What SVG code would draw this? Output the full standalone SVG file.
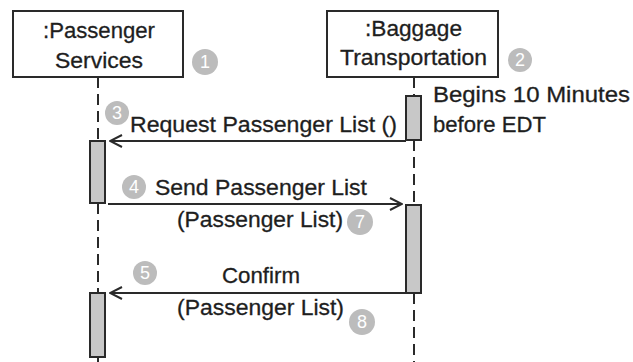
<svg xmlns="http://www.w3.org/2000/svg" width="633" height="362" viewBox="0 0 633 362">
<defs>
<style>
.box{fill:#fff;stroke:#2a2a2a;stroke-width:2}
.act{fill:#c8c8c8;stroke:#2a2a2a;stroke-width:2}
.life{stroke:#2a2a2a;stroke-width:2;stroke-dasharray:11,6;fill:none}
.msg{stroke:#2a2a2a;stroke-width:2;fill:none;marker-end:url(#open)}
.t{font-family:"Liberation Sans",Arial,sans-serif;font-size:22px;fill:#1e1e1e;stroke:#1e1e1e;stroke-width:0.3}
.num circle{fill:#bcbcbc}
.num text{font-family:"Liberation Sans",Arial,sans-serif;font-size:18px;fill:#fff;text-anchor:middle}
</style>
<marker id="open" viewBox="0 0 14 14" refX="13" refY="7" markerWidth="14" markerHeight="14" markerUnits="userSpaceOnUse" orient="auto">
<path d="M1,1 L13,7 L1,13" fill="none" stroke="#2a2a2a" stroke-width="2"/>
</marker>
</defs>
<rect width="633" height="362" fill="#fff"/>
<g id="connectors">
<path class="life" d="M98,77 V141 M98,203 V293 M98,357 V362"/>
<path class="life" d="M414,77 V96 M414,140 V205 M414,293 V362"/>
<line class="msg" x1="406" y1="141" x2="110" y2="141"/>
<line class="msg" x1="108" y1="204" x2="402" y2="204"/>
<line class="msg" x1="421" y1="293" x2="110" y2="293"/>
<text class="t" x="130" y="132" textLength="267" lengthAdjust="spacingAndGlyphs">Request Passenger List ()</text>
<text class="t" x="155" y="195" textLength="212" lengthAdjust="spacingAndGlyphs">Send Passenger List</text>
<text class="t" x="177" y="227" textLength="166" lengthAdjust="spacingAndGlyphs">(Passenger List)</text>
<text class="t" x="222" y="283" textLength="78" lengthAdjust="spacingAndGlyphs">Confirm</text>
<text class="t" x="177" y="315" textLength="167" lengthAdjust="spacingAndGlyphs">(Passenger List)</text>
</g>
<g id="passenger-services">
<rect class="box" x="13" y="11" width="170" height="66"/>
<text class="t" x="43" y="38" textLength="112" lengthAdjust="spacingAndGlyphs">:Passenger</text>
<text class="t" x="55" y="68" textLength="88" lengthAdjust="spacingAndGlyphs">Services</text>
<rect class="act" x="90" y="141" width="15" height="62"/>
<rect class="act" x="90" y="293" width="15" height="64"/>
</g>
<g id="baggage-transportation">
<rect class="box" x="327" y="11" width="171" height="66"/>
<text class="t" x="365" y="36" textLength="97" lengthAdjust="spacingAndGlyphs">:Baggage</text>
<text class="t" x="340" y="65" textLength="147" lengthAdjust="spacingAndGlyphs">Transportation</text>
<rect class="act" x="406" y="96" width="15" height="44"/>
<rect class="act" x="406" y="205" width="15" height="88"/>
<text class="t" x="433" y="102" textLength="197" lengthAdjust="spacingAndGlyphs">Begins 10 Minutes</text>
<text class="t" x="433" y="132" textLength="113" lengthAdjust="spacingAndGlyphs">before EDT</text>
</g>
<g id="step-numbers" class="num">
<g id="n1"><circle cx="205" cy="62" r="13"/><text x="205" y="68">1</text></g>
<g id="n2"><circle cx="520" cy="60" r="12"/><text x="520" y="66">2</text></g>
<g id="n3"><circle cx="117" cy="113" r="12"/><text x="117" y="119">3</text></g>
<g id="n4"><circle cx="134" cy="187" r="12"/><text x="134" y="193">4</text></g>
<g id="n5"><circle cx="145" cy="273" r="12"/><text x="145" y="279">5</text></g>
<g id="n7"><circle cx="360" cy="222" r="13"/><text x="360" y="228">7</text></g>
<g id="n8"><circle cx="362" cy="322" r="13"/><text x="362" y="328">8</text></g>
</g>
</svg>
